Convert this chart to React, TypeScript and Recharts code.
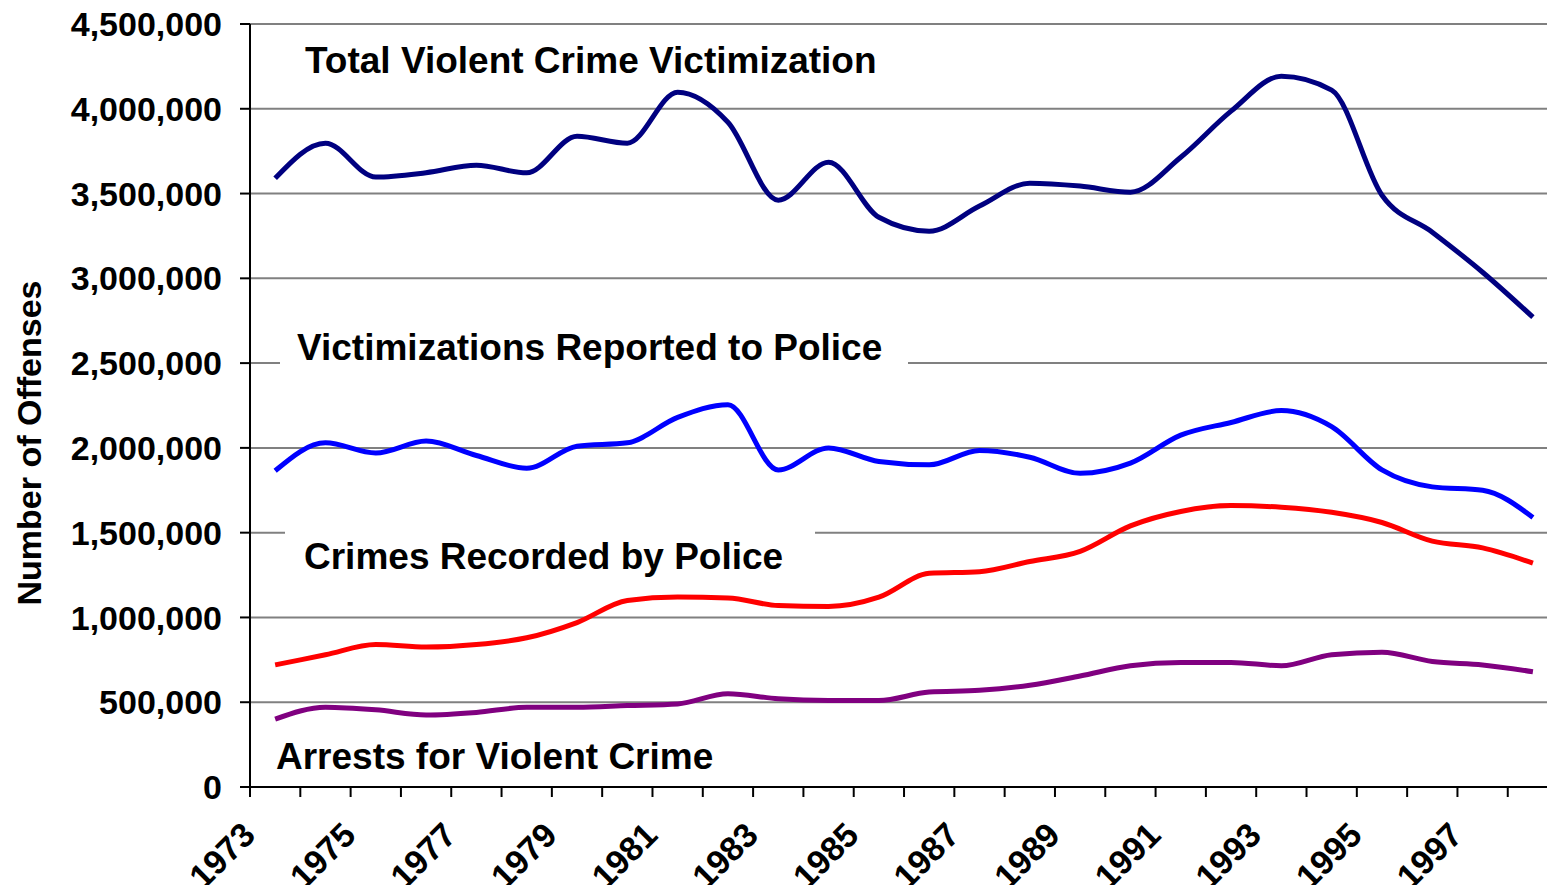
import React from 'react';
import {
  LineChart,
  Line,
  XAxis,
  YAxis,
  CartesianGrid,
  Customized,
} from 'recharts';

const FONT = 'Arial, "Liberation Sans", Helvetica, sans-serif';

// one point per year, drawn in the middle of the year
const years = [
  1973, 1974, 1975, 1976, 1977, 1978, 1979, 1980, 1981, 1982, 1983, 1984, 1985,
  1986, 1987, 1988, 1989, 1990, 1991, 1992, 1993, 1994, 1995, 1996, 1997, 1998,
];

const totalVictimization = [
  3590000, 3797000, 3597000, 3623000, 3667000, 3622000, 3838000, 3797000,
  4098000, 3921000, 3461000, 3685000, 3360000, 3278000, 3426000, 3561000,
  3544000, 3508000, 3714000, 3986000, 4192000, 4110000, 3490000, 3272000,
  3036000, 2771000,
];

const reportedToPolice = [
  1865000, 2030000, 1970000, 2040000, 1955000, 1880000, 2010000, 2030000,
  2180000, 2255000, 1870000, 2000000, 1920000, 1900000, 1985000, 1945000,
  1850000, 1910000, 2075000, 2150000, 2220000, 2125000, 1870000, 1770000,
  1750000, 1590000,
];

const recordedByPolice = [
  720000, 780000, 840000, 825000, 840000, 880000, 970000, 1100000, 1120000,
  1115000, 1070000, 1065000, 1120000, 1260000, 1270000, 1330000, 1390000,
  1540000, 1625000, 1660000, 1650000, 1620000, 1560000, 1450000, 1410000,
  1320000,
];

const arrests = [
  400000, 470000, 455000, 425000, 440000, 470000, 470000, 480000, 490000,
  550000, 520000, 510000, 510000, 560000, 570000, 600000, 655000, 715000,
  735000, 735000, 715000, 780000, 795000, 740000, 720000, 680000,
];

const xTicks = [...years];
const yTicks = [
  0, 500000, 1000000, 1500000, 2000000, 2500000, 3000000, 3500000, 4000000,
  4500000,
];

const data = years.map((year, i) => ({
  pos: year + 0.5,
  total: totalVictimization[i],
  reported: reportedToPolice[i],
  recorded: recordedByPolice[i],
  arrests: arrests[i],
}));

const formatNumber = (value: number): string =>
  new Intl.NumberFormat('en-US').format(value);

const XTick = (props: any) => {
  const { x, y, payload } = props;
  const yr = payload.value;
  // only every other year gets a label
  if (yr % 2 === 0) return <g />;
  const ax = x + 7;
  const ay = y + 40;
  return (
    <text
      x={ax}
      y={ay}
      transform={`rotate(-45 ${ax} ${ay})`}
      textAnchor="end"
      fontFamily={FONT}
      fontWeight="bold"
      fontSize={34}
      fill="#000"
    >
      {yr}
    </text>
  );
};

const labelStyle = {
  fontFamily: FONT,
  fontWeight: 'bold' as const,
  fontSize: 37,
  fill: '#000',
};

const Overlay = () => (
  <g>
    <text
      x={41}
      y={443}
      transform="rotate(-90 41 443)"
      textAnchor="middle"
      fontFamily={FONT}
      fontWeight="bold"
      fontSize={34}
      fill="#000"
    >
      Number of Offenses
    </text>
    <text x={305} y={73} {...labelStyle}>
      Total Violent Crime Victimization
    </text>
    <rect x={280} y={328} width={628} height={46} fill="#fff" />
    <text x={297} y={360} {...labelStyle}>
      Victimizations Reported to Police
    </text>
    <rect x={285} y={522} width={530} height={60} fill="#fff" />
    <text x={304} y={569} {...labelStyle}>
      Crimes Recorded by Police
    </text>
    <text x={276} y={769} {...labelStyle}>
      Arrests for Violent Crime
    </text>
  </g>
);

export default function App() {
  return (
    <div style={{ position: 'absolute', left: 0, top: 0, background: '#fff' }}>
      <LineChart
        width={1547}
        height={885}
        data={data}
        margin={{ top: 24, right: 0, bottom: 0, left: 0 }}
      >
        <CartesianGrid vertical={false} stroke="#808080" strokeWidth={2} />
        <XAxis
          dataKey="pos"
          type="number"
          domain={[1973, 1998.78]}
          ticks={xTicks}
          interval={0}
          height={98}
          tickSize={10}
          tickMargin={0}
          tick={<XTick />}
          axisLine={{ stroke: '#000', strokeWidth: 2 }}
          tickLine={{ stroke: '#000', strokeWidth: 2 }}
          allowDataOverflow
        />
        <YAxis
          domain={[0, 4500000]}
          ticks={yTicks}
          interval={0}
          width={250}
          tickSize={10}
          tickMargin={18}
          tickFormatter={value => formatNumber(value)}
          tick={{ fill: '#000', fontSize: 34, fontWeight: 'bold', fontFamily: FONT }}
          axisLine={{ stroke: '#000', strokeWidth: 2 }}
          tickLine={{ stroke: '#000', strokeWidth: 2 }}
        />
        <Customized component={<Overlay />} />
        <Line
          type="monotone"
          dataKey="total"
          stroke="#000080"
          strokeWidth={5}
          dot={false}
          isAnimationActive={false}
        />
        <Line
          type="monotone"
          dataKey="reported"
          stroke="#0000FF"
          strokeWidth={5}
          dot={false}
          isAnimationActive={false}
        />
        <Line
          type="monotone"
          dataKey="recorded"
          stroke="#FF0000"
          strokeWidth={5}
          dot={false}
          isAnimationActive={false}
        />
        <Line
          type="monotone"
          dataKey="arrests"
          stroke="#800080"
          strokeWidth={5}
          dot={false}
          isAnimationActive={false}
        />
      </LineChart>
    </div>
  );
}
